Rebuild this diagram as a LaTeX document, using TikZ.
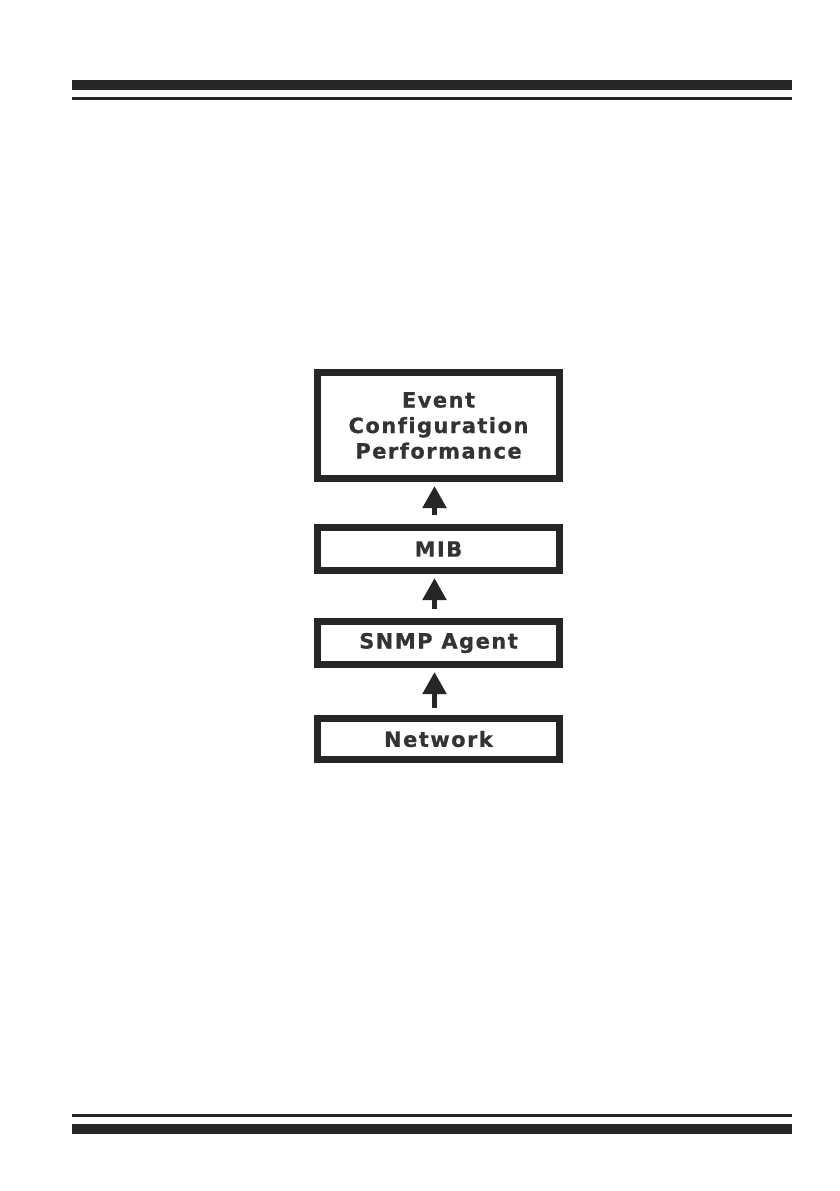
\documentclass[tikz,border=0pt]{standalone}
\usepackage{fontspec}
\newfontfamily\boxfont[LetterSpace=7,Ligatures=NoCommon,FakeBold=0.6]{DejaVu Sans Bold}
\usetikzlibrary{arrows.meta}
\definecolor{ink}{HTML}{262626}
\definecolor{txt}{HTML}{333333}
\begin{document}
\begin{tikzpicture}[x=1pt,y=-1pt,
  layer/.style={draw=ink,line width=7pt,minimum width=242pt,inner sep=0pt,
    font=\boxfont\fontsize{21}{25.5}\selectfont,text=txt,align=center},
  uparrow/.style={draw=ink,line width=5pt,
    -{Triangle[length=22pt,width=23pt]},shorten <=9pt,shorten >=4pt},
  bar/.style={fill=ink,draw=none}]
\path[fill=white] (0,0) rectangle (839,1191);
\useasboundingbox (0,0) rectangle (839,1191);
% header / footer rules
\fill[bar] (72,80) rectangle (792,90);
\fill[bar] (72,97) rectangle (792,99.6);
\fill[bar] (72,1114) rectangle (792,1117);
\fill[bar] (72,1124) rectangle (792,1134);
% layers
\node[layer,minimum height=106pt] (app) at (438.5,425.5) {Event\\Configuration\\Performance};
\node[layer,minimum height=43pt] (mib) at (438.5,549) {MIB};
\node[layer,minimum height=43pt] (agent) at (438.5,643) {SNMP Agent};
\node[layer,minimum height=41pt] (net) at (438.5,739) {Network};
% arrows
\draw[uparrow] ([xshift=-4pt]mib.north) -- ([xshift=-4pt]app.south);
\draw[uparrow] ([xshift=-4pt]agent.north) -- ([xshift=-4pt]mib.south);
\draw[uparrow] ([xshift=-4pt,yshift=-2pt]net.north) -- ([xshift=-4pt]agent.south);
\end{tikzpicture}
\end{document}
